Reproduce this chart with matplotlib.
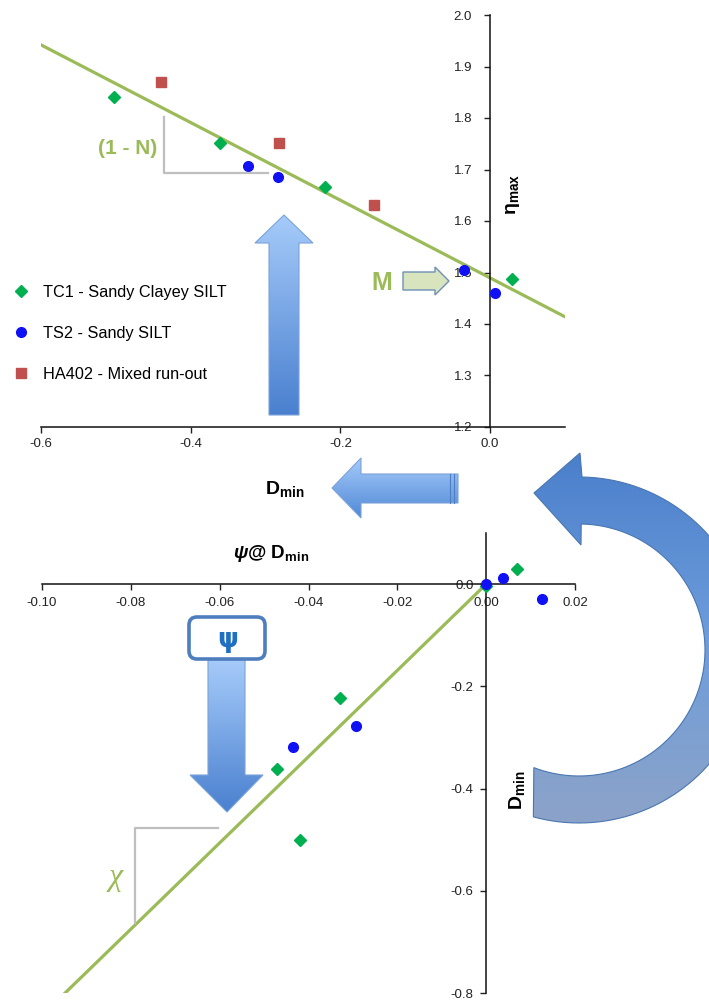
import numpy as np
import matplotlib
matplotlib.use("Agg")
import matplotlib.pyplot as plt
from matplotlib.patches import Polygon, FancyBboxPatch
from matplotlib.colors import LinearSegmentedColormap

plt.rcParams['font.family'] = ['Liberation Sans', 'DejaVu Sans']
plt.rcParams['axes.unicode_minus'] = False
plt.rcParams['mathtext.fontset'] = 'custom'
plt.rcParams['mathtext.rm'] = 'Liberation Sans:bold'
plt.rcParams['mathtext.it'] = 'Liberation Sans:italic:bold'
plt.rcParams['mathtext.bf'] = 'Liberation Sans:bold'

# top panel: eta_max against D_min
tc1_d = [-0.502, -0.361, -0.221, 0.029]
tc1_eta = [1.841, 1.751, 1.666, 1.487]
ts2_d = [-0.323, -0.283, -0.035, 0.007]
ts2_eta = [1.707, 1.686, 1.505, 1.460]
ha402_d = [-0.440, -0.282, -0.155]
ha402_eta = [1.870, 1.752, 1.632]
fit_top_d = [-0.6, 0.1]
fit_top_eta = [1.942, 1.414]

# bottom panel: D_min against psi @ D_min
tc1_psi = [0.0, 0.0069, -0.0330, -0.0470, -0.0420]
tc1_dmin = [-0.004, 0.0287, -0.222, -0.362, -0.500]
ts2_psi = [0.0, 0.0037, 0.0125, -0.0293, -0.0434]
ts2_dmin = [0.0, 0.0124, -0.029, -0.278, -0.318]
fit_bot_psi = [-0.0948, 0.0]
fit_bot_dmin = [-0.80, 0.0]

top_xticks = [-0.6, -0.4, -0.2, 0.0]
top_yticks = [1.2, 1.3, 1.4, 1.5, 1.6, 1.7, 1.8, 1.9, 2.0]
bot_xticks = [-0.10, -0.08, -0.06, -0.04, -0.02, 0.00, 0.02]
bot_yticks = [-0.8, -0.6, -0.4, -0.2, 0.0]

labels = ['TC1 - Sandy Clayey SILT', 'TS2 - Sandy SILT', 'HA402 - Mixed run-out']

GREEN = '#00B050'
BLUE = '#1010F5'
RED = '#C0504D'
FIT = '#9BBB59'
GREY = '#BFBFBF'

W, H = 709, 1000
fig = plt.figure(figsize=(W / 100, H / 100), dpi=100)


def style_axes(ax, xpad, ypad):
    for s in ['top', 'right']:
        ax.spines[s].set_visible(False)
    for s in ['left', 'bottom']:
        ax.spines[s].set_linewidth(1.1)
        ax.spines[s].set_color('#111111')
    ax.tick_params(axis='x', direction='out', length=4, width=1, pad=xpad,
                   labelsize=9.5, colors='#222222')
    ax.tick_params(axis='y', direction='out', length=4, width=1, pad=ypad,
                   labelsize=9.5, colors='#222222')
    ax.patch.set_alpha(0)


# ---- top chart
ax1 = fig.add_axes([41 / W, 1 - 427 / H, (565 - 41) / W, (427 - 15) / H])
ax1.plot(fit_top_d, fit_top_eta, color=FIT, lw=2.3, zorder=2)
ax1.plot(tc1_d, tc1_eta, 'D', color=GREEN, ms=6, ls='none', label=labels[0], zorder=3)
ax1.plot(ts2_d, ts2_eta, 'o', color=BLUE, ms=7, ls='none', label=labels[1], zorder=3)
ax1.plot(ha402_d, ha402_eta, 's', color=RED, ms=6.5, ls='none', label=labels[2], zorder=3)
ax1.set_xlim(-0.6, 0.1)
ax1.set_ylim(1.2, 2.0)
ax1.spines['left'].set_position(('data', 0))
ax1.set_xticks(top_xticks)
ax1.set_xticklabels(['%.1f' % v for v in top_xticks])
ax1.set_yticks(top_yticks)
ax1.set_yticklabels(['%.1f' % v for v in top_yticks])
style_axes(ax1, 4, 9)

ax1.legend(loc='upper left', bbox_to_anchor=(-2 / W, 1 - 270 / H),
           bbox_transform=fig.transFigure, frameon=False, fontsize=11.7,
           labelspacing=1.6, handlelength=1.0, handletextpad=0.85)

# ---- bottom chart
ax2 = fig.add_axes([42 / W, 1 - 993 / H, (575 - 42) / W, (993 - 533) / H])
ax2.plot(fit_bot_psi, fit_bot_dmin, color=FIT, lw=2.3, zorder=2)
ax2.plot(tc1_psi, tc1_dmin, 'D', color=GREEN, ms=6, ls='none', zorder=3)
ax2.plot(ts2_psi, ts2_dmin, 'o', color=BLUE, ms=7, ls='none', zorder=3)
ax2.set_xlim(-0.10, 0.02)
ax2.set_ylim(-0.8, 0.1)
ax2.spines['left'].set_position(('data', 0))
ax2.spines['bottom'].set_position(('data', 0))
ax2.set_xticks(bot_xticks)
ax2.set_xticklabels(['%.2f' % v for v in bot_xticks])
ax2.set_yticks(bot_yticks)
ax2.set_yticklabels(['%.1f' % v for v in bot_yticks])
style_axes(ax2, 5, 5)

# ---- overlay in pixel coordinates for the schematic arrows and labels
ov = fig.add_axes([0, 0, 1, 1])
ov.axis('off')


def grad_shape(verts, colors, edge, lw=0.8):
    poly = Polygon(verts, closed=True, facecolor='none', edgecolor=edge, lw=lw, zorder=4)
    ov.add_patch(poly)
    xs = [v[0] for v in verts]
    ys = [v[1] for v in verts]
    cmap = LinearSegmentedColormap.from_list('g', colors)
    grad = np.linspace(0, 1, 256).reshape(-1, 1)
    im = ov.imshow(grad, cmap=cmap, extent=(min(xs), max(xs), max(ys), min(ys)),
                   origin='upper', aspect='auto', zorder=3, interpolation='bilinear')
    im.set_clip_path(poly)


# up arrow
grad_shape([(269, 415), (269, 243), (255, 243), (284, 215), (313, 243), (299, 243), (299, 415)],
           ['#A6CBFA', '#4A80CF'], '#7AA3D8')
# left arrow
grad_shape([(458, 474), (361, 474), (361, 458), (332, 488), (361, 518), (361, 503), (458, 503)],
           ['#A6CBFA', '#5088D6'], '#7AA3D8')
ov.plot([450, 450], [474, 503], color='#4D7EC4', lw=0.8, zorder=5)
ov.plot([454, 454], [474, 503], color='#4D7EC4', lw=0.8, zorder=5)
# down arrow under the psi box
grad_shape([(208, 660), (208, 775), (190, 775), (227, 812), (263, 775), (245, 775), (245, 660)],
           ['#A6CBFA', '#4A80CF'], '#7AA3D8')
ov.add_patch(FancyBboxPatch((189, 617), 76, 42, boxstyle='round,pad=0,rounding_size=8',
                            facecolor='white', edgecolor='#4F7EBE', lw=2.6, zorder=6))
ov.text(228, 640, 'ψ', color='#1F70C1', fontsize=19, fontweight='bold',
        ha='center', va='center', zorder=7, family='DejaVu Sans')

# curved arrow on the right
cx, cy = 579, 650


def arc_pt(r, a):
    return (cx + r * np.cos(np.radians(a)), cy - r * np.sin(np.radians(a)))


outer = [arc_pt(173, a) for a in np.linspace(-105.3, 89, 90)]
inner = [arc_pt(126, a) for a in np.linspace(89, -111, 90)]
curve = outer + [(580, 453), (534, 493), (581, 545)] + inner
grad_shape(curve, ['#4A7FCB', '#6E9DDB', '#8CA3C8'], '#4A76B0')

# M arrow
ov.add_patch(Polygon([(403, 272), (435, 272), (435, 267), (449, 281), (435, 295), (435, 290), (403, 290)],
                     closed=True, facecolor='#D7E4BD', edgecolor='#6F90B8', lw=1, zorder=5))

# slope triangles
ov.plot([164, 164, 268], [117, 173, 173], color=GREY, lw=1.6, zorder=2)
ov.plot([218, 135, 135], [828, 828, 923], color=GREY, lw=1.6, zorder=2)

# labels
ov.text(128, 148, '(1 - N)', color=FIT, fontsize=15, fontweight='bold', ha='center', va='center')
ov.text(382, 283, 'M', color=FIT, fontsize=18, fontweight='bold', ha='center', va='center')
ov.text(116, 877, 'χ', color=FIT, fontsize=23, style='italic', family='Liberation Serif',
        ha='center', va='center')
ov.text(513, 194, 'η$_{\\mathrm{max}}$', fontsize=14, fontweight='bold', rotation=90,
        ha='center', va='center')
ov.text(285, 489, 'D$_{\\mathrm{min}}$', fontsize=14, fontweight='bold', ha='center', va='center')
ov.text(271, 554, '$\\mathit{\\psi}$@ D$_{\\mathrm{min}}$', fontsize=13.5, fontweight='bold',
        ha='center', va='center')
ov.text(517, 790, 'D$_{\\mathrm{min}}$', fontsize=14, fontweight='bold', rotation=90,
        ha='center', va='center')

ov.set_xlim(0, W)
ov.set_ylim(H, 0)

fig.savefig('out.png', dpi=100)
